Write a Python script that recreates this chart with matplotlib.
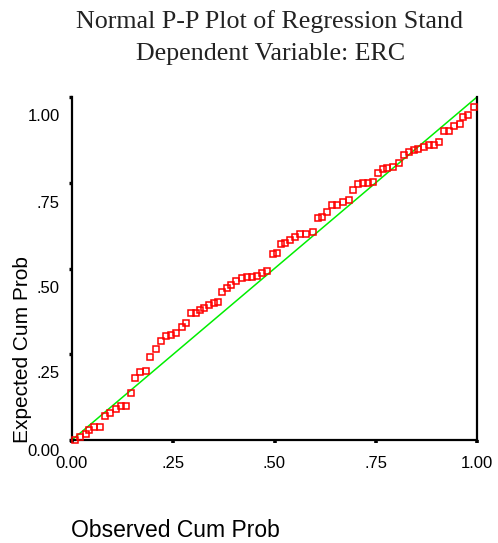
import matplotlib
matplotlib.use("Agg")
import matplotlib.pyplot as plt
from matplotlib.transforms import ScaledTranslation

# ---- data ----
x_obs = [0.007, 0.02, 0.034, 0.043, 0.054, 0.07, 0.082, 0.095, 0.108, 0.121, 0.134, 0.146, 0.156, 0.168, 0.182,
         0.193, 0.207, 0.219, 0.231, 0.245, 0.258, 0.272, 0.281, 0.293, 0.306, 0.316, 0.326, 0.338, 0.351, 0.361,
         0.371, 0.383, 0.392, 0.405, 0.419, 0.431, 0.444, 0.458, 0.470, 0.482,
         0.497, 0.505, 0.515, 0.527, 0.538, 0.551, 0.563, 0.578, 0.596, 0.607, 0.617, 0.629, 0.641, 0.655, 0.668,
         0.683, 0.695, 0.707, 0.719, 0.732, 0.744,
         0.756, 0.767, 0.779, 0.793, 0.807, 0.820, 0.832, 0.844, 0.855, 0.869, 0.881, 0.894, 0.906, 0.919, 0.931,
         0.943, 0.958, 0.966, 0.979, 0.993]
y_exp = [0.0, 0.008, 0.017, 0.029, 0.038, 0.038, 0.069, 0.078, 0.09, 0.098, 0.098, 0.138, 0.181, 0.198, 0.201,
         0.241, 0.266, 0.288, 0.302, 0.307, 0.311, 0.328, 0.340, 0.370, 0.370, 0.379, 0.385, 0.393, 0.398, 0.401,
         0.431, 0.443, 0.453, 0.463, 0.471, 0.474, 0.476, 0.478, 0.486, 0.494,
         0.542, 0.545, 0.571, 0.575, 0.583, 0.591, 0.600, 0.602, 0.607, 0.648, 0.651, 0.665, 0.685, 0.686, 0.694,
         0.700, 0.730, 0.746, 0.748, 0.750, 0.753,
         0.777, 0.789, 0.794, 0.795, 0.808, 0.830, 0.839, 0.845, 0.849, 0.855, 0.859, 0.859, 0.868, 0.902, 0.902,
         0.915, 0.921, 0.941, 0.947, 0.972]
ref_line = [0.0, 1.0]
tick_vals = [0.0, 0.25, 0.50, 0.75, 1.0]
x_tick_labels = ["0.00", ".25", ".50", ".75", "1.00"]
y_tick_labels = ["0.00", ".25", ".50", ".75", "1.00"]
title_lines = ["Normal P-P Plot of Regression Stand", "Dependent Variable: ERC"]
x_label = "Observed Cum Prob"
y_label = "Expected Cum Prob"

W, H = 498, 543
fig = plt.figure(figsize=(W / 100, H / 100), dpi=100)
ax = fig.add_axes([72 / W, (H - 440) / H, (477 - 72) / W, (440 - 97) / H])

ax.plot(ref_line, ref_line, color="#00ee00", lw=1.1, zorder=2)
ax.plot(x_obs, y_exp, ls="none", marker="s", ms=4.4, mfc="none", mec="#ff0000", mew=1.1,
        clip_on=False, zorder=3)

ax.set_xlim(0, 1)
ax.set_ylim(0, 1)

for s in ["left", "bottom", "right"]:
    ax.spines[s].set_linewidth(1.6)
    ax.spines[s].set_color("black")
ax.spines["top"].set_visible(False)

ax.set_xticks(tick_vals)
ax.set_xticklabels(x_tick_labels, fontsize=12, family="Liberation Sans")
ax.tick_params(axis="x", direction="out", length=2.5, width=2.6, pad=9, color="black")

ax.set_yticks(tick_vals)
ax.set_yticklabels([""] * len(tick_vals))
ax.tick_params(axis="y", direction="out", length=2.5, width=2.4, color="black")

# y tick labels are drawn slightly below their tick marks, as in the source
y_offsets_px = [11, 19, 20, 20.5, 19.5]
for v, lab, off in zip(tick_vals, y_tick_labels, y_offsets_px):
    tr = ax.get_yaxis_transform() + ScaledTranslation(-12 / 100, -off / 100, fig.dpi_scale_trans)
    ax.text(0, v, lab, transform=tr, ha="right", va="center", fontsize=12, family="Liberation Sans")

fig.text(269 / W, (H - 28) / H, title_lines[0], ha="center", va="baseline",
         fontsize=18.7, family="Liberation Serif", color="#222222")
fig.text(271 / W, (H - 60) / H, title_lines[1], ha="center", va="baseline",
         fontsize=18.7, family="Liberation Serif", color="#222222")

fig.text(71 / W, 1.0 / H, x_label, ha="left", va="bottom", fontsize=16.5, family="Liberation Sans")
fig.text(22 / W, (H - 350) / H, y_label, ha="center", va="center", rotation=90,
         fontsize=15, family="Liberation Sans")

fig.savefig("out.png", dpi=100)
